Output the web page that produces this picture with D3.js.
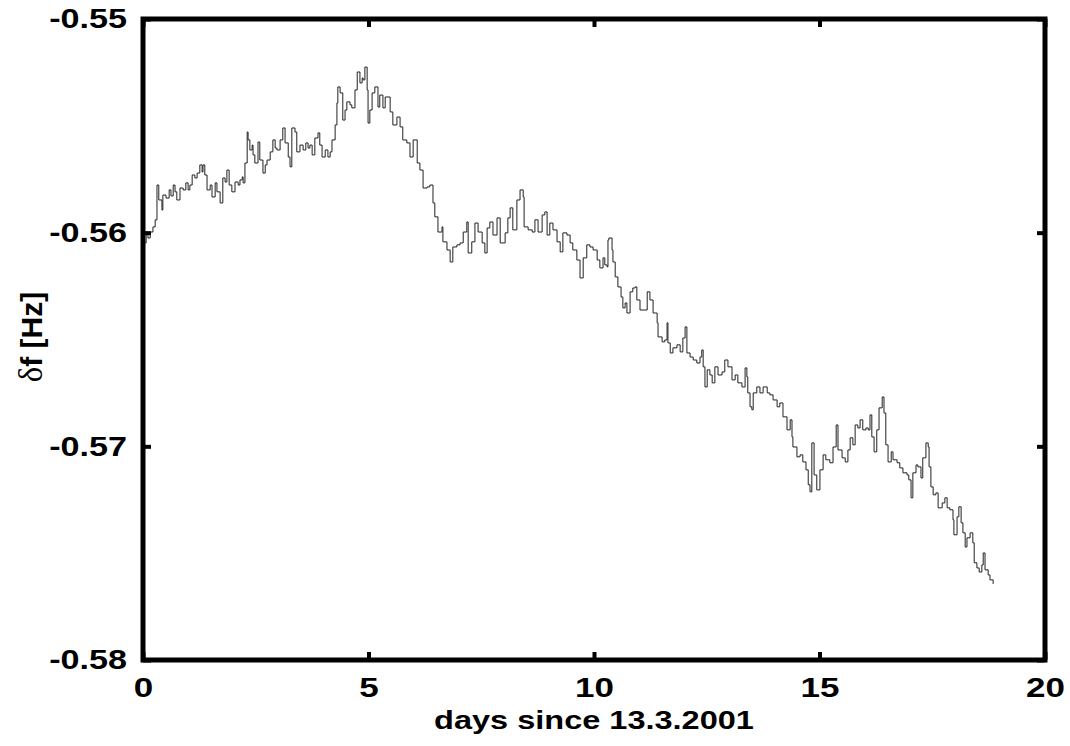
<!DOCTYPE html>
<html>
<head>
<meta charset="utf-8">
<script src="https://cdn.jsdelivr.net/npm/d3@7"></script>
<style>
  body { margin: 0; background: #fff; }
  text { font-family: "Liberation Sans", Arial, sans-serif; }
</style>
</head>
<body>
<div id="chart"></div>
<script>
// frequency offset (days since 13.3.2001, Hz)
var days = [
  0.00, 0.02, 0.07, 0.11, 0.16, 0.22, 0.27, 0.31, 0.35, 0.42, 0.44, 0.51, 0.58, 0.62, 0.67, 0.71, 0.75, 0.82, 0.89, 0.95,
  1.00, 1.04, 1.09, 1.15, 1.20, 1.26, 1.31, 1.33, 1.37, 1.42, 1.49, 1.53, 1.60, 1.64, 1.71, 1.77, 1.82, 1.86, 1.91, 1.97,
  2.04, 2.11, 2.15, 2.20, 2.22, 2.26, 2.31, 2.33, 2.37, 2.42, 2.44, 2.48, 2.55, 2.59, 2.66, 2.71, 2.75, 2.82, 2.88, 2.93,
  2.97, 3.04, 3.10, 3.15, 3.22, 3.26, 3.30, 3.37, 3.41, 3.48, 3.55, 3.61, 3.66, 3.70, 3.75, 3.81, 3.88, 3.92, 3.97, 4.04,
  4.10, 4.15, 4.19, 4.26, 4.30, 4.32, 4.37, 4.43, 4.48, 4.52, 4.59, 4.63, 4.70, 4.75, 4.81, 4.86, 4.88, 4.92, 4.97, 4.99,
  5.03, 5.08, 5.14, 5.21, 5.25, 5.32, 5.37, 5.43, 5.48, 5.54, 5.63, 5.70, 5.76, 5.85, 5.92, 5.99, 6.08, 6.14, 6.21, 6.30,
  6.36, 6.43, 6.47, 6.54, 6.63, 6.65, 6.74, 6.81, 6.87, 6.96, 7.03, 7.10, 7.18, 7.21, 7.29, 7.36, 7.43, 7.52, 7.58, 7.63,
  7.69, 7.76, 7.85, 7.92, 8.03, 8.09, 8.14, 8.20, 8.29, 8.36, 8.43, 8.45, 8.54, 8.63, 8.69, 8.76, 8.85, 8.91, 8.96, 9.02,
  9.09, 9.18, 9.25, 9.31, 9.40, 9.47, 9.53, 9.62, 9.69, 9.76, 9.84, 9.91, 9.98, 10.07, 10.13, 10.20, 10.24, 10.29, 10.31, 10.33,
  10.40, 10.42, 10.47, 10.53, 10.60, 10.64, 10.69, 10.73, 10.80, 10.86, 10.91, 10.95, 11.02, 11.18, 11.24, 11.31, 11.40, 11.42, 11.51, 11.57,
  11.62, 11.64, 11.69, 11.75, 11.84, 11.91, 11.97, 12.02, 12.06, 12.13, 12.20, 12.28, 12.35, 12.39, 12.42, 12.46, 12.51, 12.57, 12.62, 12.68,
  12.75, 12.84, 12.90, 12.97, 13.06, 13.13, 13.19, 13.28, 13.35, 13.39, 13.41, 13.46, 13.50, 13.53, 13.61, 13.68, 13.75, 13.84, 13.90, 13.97,
  14.06, 14.12, 14.19, 14.28, 14.35, 14.39, 14.41, 14.50, 14.57, 14.63, 14.70, 14.75, 14.79, 14.83, 14.88, 14.94, 15.01, 15.08, 15.14, 15.23,
  15.30, 15.37, 15.41, 15.50, 15.57, 15.63, 15.68, 15.74, 15.79, 15.85, 15.90, 15.96, 16.03, 16.08, 16.12, 16.16, 16.21, 16.27, 16.32, 16.39,
  16.43, 16.47, 16.52, 16.59, 16.63, 16.72, 16.78, 16.85, 16.94, 16.98, 17.03, 17.07, 17.14, 17.18, 17.25, 17.29, 17.36, 17.41, 17.43, 17.47,
  17.52, 17.58, 17.63, 17.72, 17.78, 17.83, 17.89, 17.96, 17.98, 18.05, 18.09, 18.14, 18.18, 18.23, 18.27, 18.34, 18.40, 18.43, 18.49, 18.54,
  18.60, 18.63, 18.67, 18.74, 18.78, 18.85
];
var df = [
  -0.56011, -0.56048, -0.55997, -0.56025, -0.55997, -0.55973, -0.55940, -0.55777, -0.55847, -0.55894, -0.55824, -0.55838, -0.55800, -0.55828, -0.55777, -0.55809, -0.55847, -0.55791, -0.55800, -0.55767,
  -0.55800, -0.55777, -0.55730, -0.55744, -0.55721, -0.55683, -0.55716, -0.55683, -0.55730, -0.55800, -0.55777, -0.55833, -0.55767, -0.55809, -0.55861, -0.55744, -0.55763, -0.55707, -0.55777, -0.55809,
  -0.55763, -0.55777, -0.55753, -0.55739, -0.55767, -0.55674, -0.55529, -0.55566, -0.55613, -0.55590, -0.55636, -0.55674, -0.55576, -0.55660, -0.55721, -0.55683, -0.55660, -0.55622, -0.55566, -0.55604,
  -0.55613, -0.55566, -0.55510, -0.55580, -0.55646, -0.55692, -0.55510, -0.55529, -0.55622, -0.55590, -0.55613, -0.55580, -0.55604, -0.55590, -0.55636, -0.55557, -0.55533, -0.55590, -0.55646, -0.55613,
  -0.55646, -0.55622, -0.55566, -0.55496, -0.55393, -0.55318, -0.55346, -0.55473, -0.55426, -0.55388, -0.55402, -0.55416, -0.55332, -0.55248, -0.55299, -0.55276, -0.55285, -0.55225, -0.55332, -0.55487,
  -0.55426, -0.55346, -0.55318, -0.55412, -0.55356, -0.55416, -0.55365, -0.55365, -0.55435, -0.55496, -0.55459, -0.55505, -0.55566, -0.55580, -0.55646, -0.55566, -0.55674, -0.55707, -0.55791, -0.55786,
  -0.55777, -0.55861, -0.55926, -0.55997, -0.55973, -0.56043, -0.56081, -0.56137, -0.56067, -0.56057, -0.56048, -0.55997, -0.55950, -0.56095, -0.56043, -0.55955, -0.55997, -0.56048, -0.56095, -0.55978,
  -0.55950, -0.56011, -0.55931, -0.56048, -0.56001, -0.55931, -0.55884, -0.55987, -0.55847, -0.55800, -0.55833, -0.55973, -0.55987, -0.55997, -0.55940, -0.55997, -0.55917, -0.55903, -0.56011, -0.55955,
  -0.55987, -0.56043, -0.56090, -0.56001, -0.56011, -0.56048, -0.56081, -0.56128, -0.56212, -0.56118, -0.56057, -0.56067, -0.56081, -0.56128, -0.56165, -0.56118, -0.56151, -0.56160, -0.56034, -0.56025,
  -0.56081, -0.56137, -0.56207, -0.56254, -0.56301, -0.56352, -0.56329, -0.56376, -0.56277, -0.56259, -0.56254, -0.56315, -0.56362, -0.56277, -0.56315, -0.56376, -0.56422, -0.56488, -0.56511, -0.56502,
  -0.56422, -0.56516, -0.56563, -0.56539, -0.56525, -0.56558, -0.56493, -0.56441, -0.56563, -0.56582, -0.56596, -0.56610, -0.56582, -0.56549, -0.56628, -0.56722, -0.56642, -0.56666, -0.56703, -0.56628,
  -0.56666, -0.56652, -0.56596, -0.56628, -0.56689, -0.56666, -0.56703, -0.56722, -0.56633, -0.56675, -0.56750, -0.56815, -0.56829, -0.56750, -0.56722, -0.56750, -0.56722, -0.56750, -0.56759, -0.56783,
  -0.56815, -0.56797, -0.56862, -0.56923, -0.56876, -0.56956, -0.57003, -0.57049, -0.57040, -0.57073, -0.57110, -0.57180, -0.57213, -0.56984, -0.57134, -0.57204, -0.57110, -0.57040, -0.57063, -0.57077,
  -0.57003, -0.56900, -0.57017, -0.57054, -0.57073, -0.57017, -0.56960, -0.56993, -0.56900, -0.56914, -0.56876, -0.56923, -0.56914, -0.56923, -0.56853, -0.56956, -0.57026, -0.56923, -0.56820, -0.56769,
  -0.56844, -0.56993, -0.57073, -0.57026, -0.57063, -0.57077, -0.57101, -0.57124, -0.57134, -0.57157, -0.57241, -0.57124, -0.57087, -0.57096, -0.57148, -0.57054, -0.56984, -0.57003, -0.57096, -0.57190,
  -0.57227, -0.57218, -0.57288, -0.57265, -0.57241, -0.57288, -0.57297, -0.57344, -0.57414, -0.57330, -0.57283, -0.57358, -0.57405, -0.57471, -0.57428, -0.57405, -0.57452, -0.57545, -0.57569, -0.57588,
  -0.57555, -0.57499, -0.57578, -0.57602, -0.57625, -0.57644
];
var xTicks = [0, 5, 10, 15, 20];
var yTicks = [-0.55, -0.56, -0.57, -0.58];
var yTickLabels = ["-0.55", "-0.56", "-0.57", "-0.58"];

var width = 1070, height = 746;
var margin = {top: 19, right: 25, bottom: 86, left: 143};
var w = width - margin.left - margin.right;
var h = height - margin.top - margin.bottom;

var svg = d3.select("#chart").append("svg")
  .attr("width", width)
  .attr("height", height);

var g = svg.append("g")
  .attr("transform", "translate(" + margin.left + "," + margin.top + ")");

var x = d3.scaleLinear().domain([0, 20]).range([0, w]);
var y = d3.scaleLinear().domain([-0.58, -0.55]).range([h, 0]);

var data = days.map(function(d, i) { return {t: d, v: df[i]}; });

var line = d3.line()
  .x(function(d) { return x(d.t); })
  .y(function(d) { return y(d.v); })
  .curve(d3.curveStepAfter);

g.append("path")
  .datum(data)
  .attr("fill", "none")
  .attr("stroke", "#222")
  .attr("stroke-width", 1)
  .attr("d", line);

// axes, ticks pointing inward
var xAxis = g.append("g").attr("transform", "translate(0," + h + ")")
  .call(d3.axisBottom(x).tickValues(xTicks).tickSize(-8).tickPadding(17));
var xTop = g.append("g")
  .call(d3.axisTop(x).tickValues(xTicks).tickSize(-8).tickFormat(""));
var yAxis = g.append("g")
  .call(d3.axisLeft(y).tickValues(yTicks).tickSize(-8).tickPadding(16)
    .tickFormat(function(d, i) { return yTickLabels[i]; }));
var yRight = g.append("g").attr("transform", "translate(" + w + ",0)")
  .call(d3.axisRight(y).tickValues(yTicks).tickSize(-8).tickFormat(""));

[xAxis, xTop, yAxis, yRight].forEach(function(a) {
  a.select(".domain").remove();
  a.selectAll(".tick line").attr("stroke", "#000").attr("stroke-width", 4);
  a.selectAll("text")
    .attr("fill", "#000")
    .style("font-family", "'Liberation Sans', Arial, sans-serif")
    .style("font-size", "28px")
    .style("font-weight", "bold");
});

// the original figure is stretched sideways, so widen the glyphs a bit
function stretch(sel, k) {
  sel.each(function() {
    var len = this.getComputedTextLength();
    d3.select(this).attr("textLength", len * k).attr("lengthAdjust", "spacingAndGlyphs");
  });
}
stretch(xAxis.selectAll("text"), 1.25);
stretch(yAxis.selectAll("text"), 1.22);

g.append("rect")
  .attr("x", 0).attr("y", 0)
  .attr("width", w).attr("height", h)
  .attr("fill", "none")
  .attr("stroke", "#000")
  .attr("stroke-width", 5);

var xTitle = svg.append("text")
  .attr("x", margin.left + w / 2)
  .attr("y", 729)
  .attr("text-anchor", "middle")
  .style("font-size", "25px")
  .style("font-weight", "bold")
  .text("days since 13.3.2001");
stretch(xTitle, 1.3);

var yTitle = svg.append("text")
  .attr("transform", "translate(42,337) rotate(-90)")
  .attr("text-anchor", "middle")
  .style("font-size", "30px")
  .style("font-weight", "bold");
yTitle.append("tspan")
  .style("font-family", "'Liberation Serif', 'Times New Roman', serif")
  .style("font-weight", "normal")
  .style("font-size", "33px")
  .text("δ");
yTitle.append("tspan").text("f [Hz]");
</script>
</body>
</html>
